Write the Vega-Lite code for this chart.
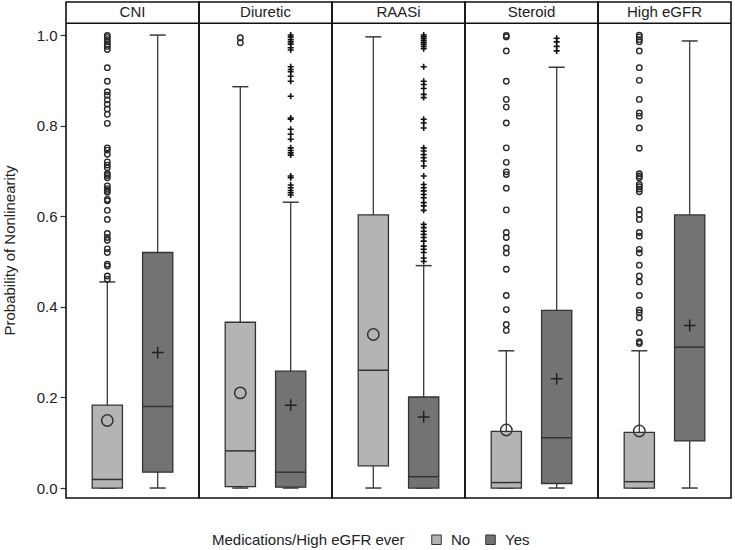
{
  "$schema": "https://vega.github.io/schema/vega-lite/v6.json",
  "padding": {"top": 1, "left": 2, "right": 3, "bottom": 0},
  "background": "white",
  "data": {"values": [
    {"g":"CNI","k":"hdr"},{"g":"Diuretic","k":"hdr"},{"g":"RAASi","k":"hdr"},{"g":"Steroid","k":"hdr"},{"g":"High eGFR","k":"hdr"},
    {"g":"CNI","m":"No","k":"box","lo":0,"q1":0.0,"md":0.019,"q3":0.183,"hi":0.455,"mean":0.149},
    {"g":"CNI","m":"Yes","k":"box","lo":0,"q1":0.035,"md":0.180,"q3":0.520,"hi":1.0,"mean":0.299},
    {"g":"Diuretic","m":"No","k":"box","lo":0,"q1":0.003,"md":0.082,"q3":0.366,"hi":0.886,"mean":0.210},
    {"g":"Diuretic","m":"Yes","k":"box","lo":0,"q1":0.002,"md":0.035,"q3":0.258,"hi":0.631,"mean":0.183},
    {"g":"RAASi","m":"No","k":"box","lo":0,"q1":0.049,"md":0.260,"q3":0.603,"hi":0.996,"mean":0.339},
    {"g":"RAASi","m":"Yes","k":"box","lo":0,"q1":0.0,"md":0.025,"q3":0.201,"hi":0.491,"mean":0.157},
    {"g":"Steroid","m":"No","k":"box","lo":0,"q1":0.0,"md":0.012,"q3":0.125,"hi":0.303,"mean":0.128},
    {"g":"Steroid","m":"Yes","k":"box","lo":0,"q1":0.01,"md":0.111,"q3":0.392,"hi":0.929,"mean":0.241},
    {"g":"High eGFR","m":"No","k":"box","lo":0,"q1":0.0,"md":0.014,"q3":0.123,"hi":0.303,"mean":0.126},
    {"g":"High eGFR","m":"Yes","k":"box","lo":0,"q1":0.104,"md":0.311,"q3":0.603,"hi":0.987,"mean":0.359},
    {"g":"CNI","m":"No","k":"o","v":0.999},{"g":"CNI","m":"No","k":"o","v":0.995},{"g":"CNI","m":"No","k":"o","v":0.99},{"g":"CNI","m":"No","k":"o","v":0.985},{"g":"CNI","m":"No","k":"o","v":0.98},{"g":"CNI","m":"No","k":"o","v":0.975},{"g":"CNI","m":"No","k":"o","v":0.968},{"g":"CNI","m":"No","k":"o","v":0.928},{"g":"CNI","m":"No","k":"o","v":0.898},{"g":"CNI","m":"No","k":"o","v":0.875},{"g":"CNI","m":"No","k":"o","v":0.867},{"g":"CNI","m":"No","k":"o","v":0.857},{"g":"CNI","m":"No","k":"o","v":0.847},{"g":"CNI","m":"No","k":"o","v":0.837},{"g":"CNI","m":"No","k":"o","v":0.825},{"g":"CNI","m":"No","k":"o","v":0.805},{"g":"CNI","m":"No","k":"o","v":0.751},{"g":"CNI","m":"No","k":"o","v":0.746},{"g":"CNI","m":"No","k":"o","v":0.737},{"g":"CNI","m":"No","k":"o","v":0.72},{"g":"CNI","m":"No","k":"o","v":0.713},{"g":"CNI","m":"No","k":"o","v":0.707},{"g":"CNI","m":"No","k":"o","v":0.694},{"g":"CNI","m":"No","k":"o","v":0.69},{"g":"CNI","m":"No","k":"o","v":0.685},{"g":"CNI","m":"No","k":"o","v":0.667},{"g":"CNI","m":"No","k":"o","v":0.661},{"g":"CNI","m":"No","k":"o","v":0.657},{"g":"CNI","m":"No","k":"o","v":0.653},{"g":"CNI","m":"No","k":"o","v":0.637},{"g":"CNI","m":"No","k":"o","v":0.634},{"g":"CNI","m":"No","k":"o","v":0.613},{"g":"CNI","m":"No","k":"o","v":0.593},{"g":"CNI","m":"No","k":"o","v":0.562},{"g":"CNI","m":"No","k":"o","v":0.553},{"g":"CNI","m":"No","k":"o","v":0.547},{"g":"CNI","m":"No","k":"o","v":0.528},{"g":"CNI","m":"No","k":"o","v":0.52},{"g":"CNI","m":"No","k":"o","v":0.494},{"g":"CNI","m":"No","k":"o","v":0.49},{"g":"CNI","m":"No","k":"o","v":0.468},{"g":"CNI","m":"No","k":"o","v":0.461},
    {"g":"Diuretic","m":"No","k":"o","v":0.994},{"g":"Diuretic","m":"No","k":"o","v":0.983},
    {"g":"Diuretic","m":"Yes","k":"o","v":1.0},{"g":"Diuretic","m":"Yes","k":"o","v":0.996},{"g":"Diuretic","m":"Yes","k":"o","v":0.99},{"g":"Diuretic","m":"Yes","k":"o","v":0.985},{"g":"Diuretic","m":"Yes","k":"o","v":0.98},{"g":"Diuretic","m":"Yes","k":"o","v":0.972},{"g":"Diuretic","m":"Yes","k":"o","v":0.967},{"g":"Diuretic","m":"Yes","k":"o","v":0.93},{"g":"Diuretic","m":"Yes","k":"o","v":0.924},{"g":"Diuretic","m":"Yes","k":"o","v":0.919},{"g":"Diuretic","m":"Yes","k":"o","v":0.909},{"g":"Diuretic","m":"Yes","k":"o","v":0.898},{"g":"Diuretic","m":"Yes","k":"o","v":0.865},{"g":"Diuretic","m":"Yes","k":"o","v":0.817},{"g":"Diuretic","m":"Yes","k":"o","v":0.814},{"g":"Diuretic","m":"Yes","k":"o","v":0.792},{"g":"Diuretic","m":"Yes","k":"o","v":0.781},{"g":"Diuretic","m":"Yes","k":"o","v":0.77},{"g":"Diuretic","m":"Yes","k":"o","v":0.751},{"g":"Diuretic","m":"Yes","k":"o","v":0.745},{"g":"Diuretic","m":"Yes","k":"o","v":0.74},{"g":"Diuretic","m":"Yes","k":"o","v":0.735},{"g":"Diuretic","m":"Yes","k":"o","v":0.689},{"g":"Diuretic","m":"Yes","k":"o","v":0.685},{"g":"Diuretic","m":"Yes","k":"o","v":0.669},{"g":"Diuretic","m":"Yes","k":"o","v":0.663},{"g":"Diuretic","m":"Yes","k":"o","v":0.657},{"g":"Diuretic","m":"Yes","k":"o","v":0.652},{"g":"Diuretic","m":"Yes","k":"o","v":0.647},
    {"g":"RAASi","m":"Yes","k":"o","v":1.0},{"g":"RAASi","m":"Yes","k":"o","v":0.996},{"g":"RAASi","m":"Yes","k":"o","v":0.992},{"g":"RAASi","m":"Yes","k":"o","v":0.988},{"g":"RAASi","m":"Yes","k":"o","v":0.984},{"g":"RAASi","m":"Yes","k":"o","v":0.98},{"g":"RAASi","m":"Yes","k":"o","v":0.975},{"g":"RAASi","m":"Yes","k":"o","v":0.97},{"g":"RAASi","m":"Yes","k":"o","v":0.93},{"g":"RAASi","m":"Yes","k":"o","v":0.898},{"g":"RAASi","m":"Yes","k":"o","v":0.891},{"g":"RAASi","m":"Yes","k":"o","v":0.882},{"g":"RAASi","m":"Yes","k":"o","v":0.869},{"g":"RAASi","m":"Yes","k":"o","v":0.862},{"g":"RAASi","m":"Yes","k":"o","v":0.814},{"g":"RAASi","m":"Yes","k":"o","v":0.806},{"g":"RAASi","m":"Yes","k":"o","v":0.795},{"g":"RAASi","m":"Yes","k":"o","v":0.751},{"g":"RAASi","m":"Yes","k":"o","v":0.744},{"g":"RAASi","m":"Yes","k":"o","v":0.736},{"g":"RAASi","m":"Yes","k":"o","v":0.729},{"g":"RAASi","m":"Yes","k":"o","v":0.722},{"g":"RAASi","m":"Yes","k":"o","v":0.711},{"g":"RAASi","m":"Yes","k":"o","v":0.689},{"g":"RAASi","m":"Yes","k":"o","v":0.67},{"g":"RAASi","m":"Yes","k":"o","v":0.663},{"g":"RAASi","m":"Yes","k":"o","v":0.656},{"g":"RAASi","m":"Yes","k":"o","v":0.648},{"g":"RAASi","m":"Yes","k":"o","v":0.641},{"g":"RAASi","m":"Yes","k":"o","v":0.63},{"g":"RAASi","m":"Yes","k":"o","v":0.623},{"g":"RAASi","m":"Yes","k":"o","v":0.613},{"g":"RAASi","m":"Yes","k":"o","v":0.582},{"g":"RAASi","m":"Yes","k":"o","v":0.575},{"g":"RAASi","m":"Yes","k":"o","v":0.567},{"g":"RAASi","m":"Yes","k":"o","v":0.56},{"g":"RAASi","m":"Yes","k":"o","v":0.553},{"g":"RAASi","m":"Yes","k":"o","v":0.545},{"g":"RAASi","m":"Yes","k":"o","v":0.534},{"g":"RAASi","m":"Yes","k":"o","v":0.527},{"g":"RAASi","m":"Yes","k":"o","v":0.52},{"g":"RAASi","m":"Yes","k":"o","v":0.508},{"g":"RAASi","m":"Yes","k":"o","v":0.5},
    {"g":"Steroid","m":"No","k":"o","v":0.999},{"g":"Steroid","m":"No","k":"o","v":0.996},{"g":"Steroid","m":"No","k":"o","v":0.965},{"g":"Steroid","m":"No","k":"o","v":0.898},{"g":"Steroid","m":"No","k":"o","v":0.858},{"g":"Steroid","m":"No","k":"o","v":0.841},{"g":"Steroid","m":"No","k":"o","v":0.806},{"g":"Steroid","m":"No","k":"o","v":0.751},{"g":"Steroid","m":"No","k":"o","v":0.719},{"g":"Steroid","m":"No","k":"o","v":0.698},{"g":"Steroid","m":"No","k":"o","v":0.692},{"g":"Steroid","m":"No","k":"o","v":0.662},{"g":"Steroid","m":"No","k":"o","v":0.614},{"g":"Steroid","m":"No","k":"o","v":0.564},{"g":"Steroid","m":"No","k":"o","v":0.553},{"g":"Steroid","m":"No","k":"o","v":0.53},{"g":"Steroid","m":"No","k":"o","v":0.519},{"g":"Steroid","m":"No","k":"o","v":0.483},{"g":"Steroid","m":"No","k":"o","v":0.425},{"g":"Steroid","m":"No","k":"o","v":0.394},{"g":"Steroid","m":"No","k":"o","v":0.361},{"g":"Steroid","m":"No","k":"o","v":0.348},
    {"g":"Steroid","m":"Yes","k":"o","v":0.993},{"g":"Steroid","m":"Yes","k":"o","v":0.985},{"g":"Steroid","m":"Yes","k":"o","v":0.975},{"g":"Steroid","m":"Yes","k":"o","v":0.965},
    {"g":"High eGFR","m":"No","k":"o","v":1.0},{"g":"High eGFR","m":"No","k":"o","v":0.996},{"g":"High eGFR","m":"No","k":"o","v":0.99},{"g":"High eGFR","m":"No","k":"o","v":0.985},{"g":"High eGFR","m":"No","k":"o","v":0.965},{"g":"High eGFR","m":"No","k":"o","v":0.928},{"g":"High eGFR","m":"No","k":"o","v":0.9},{"g":"High eGFR","m":"No","k":"o","v":0.858},{"g":"High eGFR","m":"No","k":"o","v":0.828},{"g":"High eGFR","m":"No","k":"o","v":0.821},{"g":"High eGFR","m":"No","k":"o","v":0.795},{"g":"High eGFR","m":"No","k":"o","v":0.75},{"g":"High eGFR","m":"No","k":"o","v":0.694},{"g":"High eGFR","m":"No","k":"o","v":0.689},{"g":"High eGFR","m":"No","k":"o","v":0.685},{"g":"High eGFR","m":"No","k":"o","v":0.67},{"g":"High eGFR","m":"No","k":"o","v":0.665},{"g":"High eGFR","m":"No","k":"o","v":0.66},{"g":"High eGFR","m":"No","k":"o","v":0.654},{"g":"High eGFR","m":"No","k":"o","v":0.614},{"g":"High eGFR","m":"No","k":"o","v":0.604},{"g":"High eGFR","m":"No","k":"o","v":0.593},{"g":"High eGFR","m":"No","k":"o","v":0.564},{"g":"High eGFR","m":"No","k":"o","v":0.556},{"g":"High eGFR","m":"No","k":"o","v":0.527},{"g":"High eGFR","m":"No","k":"o","v":0.519},{"g":"High eGFR","m":"No","k":"o","v":0.492},{"g":"High eGFR","m":"No","k":"o","v":0.468},{"g":"High eGFR","m":"No","k":"o","v":0.455},{"g":"High eGFR","m":"No","k":"o","v":0.425},{"g":"High eGFR","m":"No","k":"o","v":0.393},{"g":"High eGFR","m":"No","k":"o","v":0.387},{"g":"High eGFR","m":"No","k":"o","v":0.376},{"g":"High eGFR","m":"No","k":"o","v":0.343},{"g":"High eGFR","m":"No","k":"o","v":0.323},{"g":"High eGFR","m":"No","k":"o","v":0.319}
  ]},
  "facet": {"column": {"field": "g", "type": "nominal", "sort": ["CNI","Diuretic","RAASi","Steroid","High eGFR"], "header": null}},
  "spacing": 0,
  "bounds": "flush",
  "spec": {
    "width": 133,
    "height": 496,
    "layer": [
      {
        "transform": [{"filter": "datum.k === 'box'"}],
        "mark": {"type": "rule", "color": "#3a3a3a", "strokeWidth": 1.3},
        "encoding": {
          "x": {"field": "m", "type": "nominal", "scale": {"domain": ["No","Yes"], "paddingInner": 0.4, "paddingOuter": 0.52}, "axis": null},
          "y": {"field": "lo", "type": "quantitative", "scale": {"domain": [-0.022, 1.073], "nice": false, "zero": false}, "axis": {"values": [0,0.2,0.4,0.6,0.8,1.0], "format": ".1f", "domain": false, "grid": false, "tickSize": 6, "tickColor": "#333", "tickWidth": 1.2, "labelFont": "Liberation Sans", "labelFontSize": 15, "labelColor": "#222", "labelPadding": 3, "title": "Probability of Nonlinearity", "titleFont": "Liberation Sans", "titleFontSize": 15, "titleFontWeight": "normal", "titleColor": "#222", "titlePadding": 19}},
          "y2": {"field": "hi"}
        }
      },
      {
        "transform": [{"filter": "datum.k === 'box'"}],
        "mark": {"type": "tick", "color": "#3a3a3a", "size": 16, "thickness": 1.5, "opacity": 1},
        "encoding": {"x": {"field": "m", "type": "nominal"}, "y": {"field": "lo", "type": "quantitative"}}
      },
      {
        "transform": [{"filter": "datum.k === 'box'"}],
        "mark": {"type": "tick", "color": "#3a3a3a", "size": 16, "thickness": 1.5, "opacity": 1},
        "encoding": {"x": {"field": "m", "type": "nominal"}, "y": {"field": "hi", "type": "quantitative"}}
      },
      {
        "transform": [{"filter": "datum.k === 'box'"}],
        "mark": {"type": "bar", "stroke": "#333333", "strokeWidth": 1.3, "opacity": 1},
        "encoding": {
          "x": {"field": "m", "type": "nominal"},
          "y": {"field": "q1", "type": "quantitative"},
          "y2": {"field": "q3"},
          "color": {"field": "m", "type": "nominal", "scale": {"domain": ["No","Yes"], "range": ["#b4b4b4","#737373"]},
            "legend": {"title": "Medications/High eGFR ever", "orient": "none", "legendX": 146, "legendY": 530, "direction": "horizontal", "titleOrient": "left", "titleLimit": 400, "titleFont": "Liberation Sans", "titleFontSize": 15, "titleFontWeight": "normal", "titleColor": "#222", "titlePadding": 24, "labelFont": "Liberation Sans", "labelFontSize": 15, "labelColor": "#222", "symbolType": "square", "symbolSize": 90, "symbolStrokeColor": "#333", "symbolStrokeWidth": 1, "symbolOpacity": 1, "columnPadding": 12, "labelOffset": 7}}
        }
      },
      {
        "transform": [{"filter": "datum.k === 'box'"}],
        "mark": {"type": "tick", "color": "#333333", "size": 30, "thickness": 1.5, "opacity": 1},
        "encoding": {"x": {"field": "m", "type": "nominal"}, "y": {"field": "md", "type": "quantitative"}}
      },
      {
        "transform": [{"filter": "datum.k === 'box' && datum.m === 'No'"}],
        "mark": {"type": "point", "shape": "circle", "filled": false, "stroke": "#333333", "strokeWidth": 1.5, "size": 130, "opacity": 1},
        "encoding": {"x": {"field": "m", "type": "nominal"}, "y": {"field": "mean", "type": "quantitative"}}
      },
      {
        "transform": [{"filter": "datum.k === 'box' && datum.m === 'Yes'"}],
        "mark": {"type": "point", "shape": "M-1,0H1M0,-1V1", "filled": false, "stroke": "#222222", "strokeWidth": 1.5, "size": 140, "opacity": 1},
        "encoding": {"x": {"field": "m", "type": "nominal"}, "y": {"field": "mean", "type": "quantitative"}}
      },
      {
        "transform": [{"filter": "datum.k === 'o' && datum.m === 'No'"}],
        "mark": {"type": "point", "shape": "circle", "filled": false, "stroke": "#2a2a2a", "strokeWidth": 1.4, "size": 30, "opacity": 1},
        "encoding": {"x": {"field": "m", "type": "nominal"}, "y": {"field": "v", "type": "quantitative"}}
      },
      {
        "transform": [{"filter": "datum.k === 'o' && datum.m === 'Yes'"}],
        "mark": {"type": "point", "shape": "M-1,0H1M0,-1V1", "filled": false, "stroke": "#111111", "strokeWidth": 1.6, "size": 36, "opacity": 1},
        "encoding": {"x": {"field": "m", "type": "nominal"}, "y": {"field": "v", "type": "quantitative"}}
      },
      {
        "transform": [{"filter": "datum.k === 'hdr'"}],
        "mark": {"type": "rule", "color": "#111", "strokeWidth": 1.6},
        "encoding": {"y": {"datum": 1.026}}
      },
      {
        "transform": [{"filter": "datum.k === 'hdr'"}],
        "mark": {"type": "text", "font": "Liberation Sans", "fontSize": 15, "color": "#222", "baseline": "middle", "align": "center", "x": {"expr": "child_width / 2"}},
        "encoding": {"text": {"field": "g"}, "y": {"datum": 1.05}}
      }
    ]
  },
  "config": {
    "view": {"stroke": "#111", "strokeWidth": 1.6}
  }
}
